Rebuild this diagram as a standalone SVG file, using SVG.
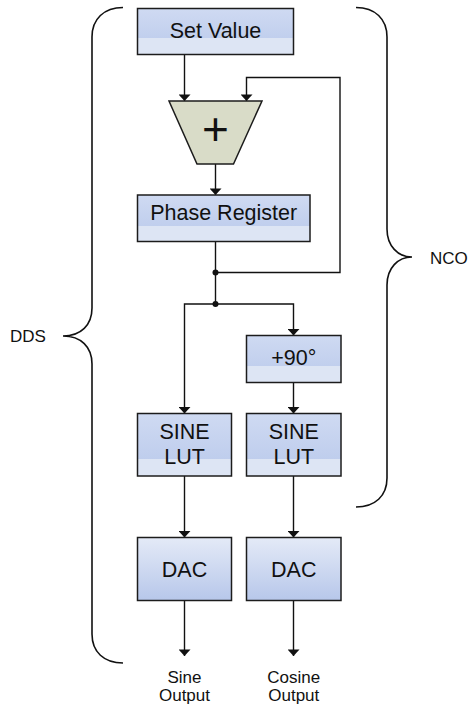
<svg xmlns="http://www.w3.org/2000/svg" width="469" height="707" viewBox="0 0 469 707">
  <style>
    .box { fill: url(#glass); }
    .band { fill: #dde5f4; }
    .edge { fill: none; stroke: #1c1c1c; stroke-width: 1.5; }
    .dac { fill: url(#dacFill); stroke: #1c1c1c; stroke-width: 1.5; }
    .lbl { font-family: "Liberation Sans", Arial, sans-serif; font-size: 21.5px; fill: #111; text-anchor: middle; }
    .small { font-family: "Liberation Sans", Arial, sans-serif; font-size: 17px; fill: #111; }
    .wire { fill: none; stroke: #111; stroke-width: 1.4; }
    .brace { fill: none; stroke: #111; stroke-width: 1.6; }
  </style>
  <defs>
    <linearGradient id="glass" x1="0" y1="0" x2="0" y2="1">
      <stop offset="0" stop-color="#cfdaf2"/>
      <stop offset="1" stop-color="#b9c9eb"/>
    </linearGradient>
    <linearGradient id="dacFill" x1="0" y1="0" x2="0" y2="1">
      <stop offset="0" stop-color="#e4eaf7"/>
      <stop offset="1" stop-color="#b7c7ea"/>
    </linearGradient>
    <marker id="arrow" markerUnits="userSpaceOnUse" markerWidth="7" markerHeight="12" viewBox="0 0 6 11" refX="6" refY="5.5" orient="auto">
      <path d="M0,0 L6,5.5 L0,11 z" fill="#111"/>
    </marker>
  </defs>

  <!-- braces -->
  <g id="dds">
    <path class="brace" d="M123,7.5 C104,7.5 92,19 92,37 L92,308 C92,325 81,336 63,336 C81,336 92,347 92,364 L92,634 C92,652 104,663 123,663"/>
    <text class="small" x="10" y="341.5">DDS</text>
  </g>
  <g id="nco">
    <path class="brace" d="M356,7.5 C375,7.5 387,19 387,37 L387,229 C387,246 398,257 412,257 C398,257 387,268 387,285 L387,478 C387,496 375,507 356,507"/>
    <text class="small" x="430" y="264">NCO</text>
  </g>

  <!-- connectors -->
  <g id="connectors">
    <path class="wire" d="M184.5,54.5 V101" marker-end="url(#arrow)"/>
    <path class="wire" d="M215.5,272.5 H340 V77.5 H246.5 V101" marker-end="url(#arrow)"/>
    <path class="wire" d="M215.5,164 V195" marker-end="url(#arrow)"/>
    <path class="wire" d="M215.5,241.5 V304"/>
    <path class="wire" d="M215.5,304 H184.5 V413.5" marker-end="url(#arrow)"/>
    <path class="wire" d="M215.5,304 H293.5 V335.5" marker-end="url(#arrow)"/>
    <path class="wire" d="M293.5,382.5 V413.5" marker-end="url(#arrow)"/>
    <path class="wire" d="M184.5,476 V537.5" marker-end="url(#arrow)"/>
    <path class="wire" d="M293.5,476 V537.5" marker-end="url(#arrow)"/>
    <path class="wire" d="M184.5,600.5 V656" marker-end="url(#arrow)"/>
    <path class="wire" d="M293.5,600.5 V656" marker-end="url(#arrow)"/>
    <circle cx="215.5" cy="272.5" r="3" fill="#111"/>
    <circle cx="215.5" cy="304" r="3" fill="#111"/>
  </g>

  <!-- nodes -->
  <g id="set-value">
    <rect class="box" x="137.5" y="8.5" width="156" height="46"/>
    <rect class="band" x="137.5" y="38" width="156" height="16.5"/>
    <rect class="edge" x="137.5" y="8.5" width="156" height="46"/>
    <text class="lbl" x="215.5" y="38.3">Set Value</text>
  </g>

  <g id="adder">
    <polygon points="169,101 262,101 233.5,164 197,164" fill="#d9dcc8" stroke="#1c1c1c" stroke-width="1.5"/>
    <text x="215.5" y="145" font-family="Liberation Sans, Arial, sans-serif" font-size="46" fill="#111" text-anchor="middle">+</text>
  </g>

  <g id="phase-register">
    <rect class="box" x="137.5" y="195" width="172.5" height="46.5"/>
    <rect class="band" x="137.5" y="226" width="172.5" height="15.5"/>
    <rect class="edge" x="137.5" y="195" width="172.5" height="46.5"/>
    <text class="lbl" x="223.7" y="219.5">Phase Register</text>
  </g>

  <g id="phase-shift">
    <rect class="box" x="246.5" y="335.5" width="94.5" height="47"/>
    <rect class="band" x="246.5" y="366" width="94.5" height="16.5"/>
    <rect class="edge" x="246.5" y="335.5" width="94.5" height="47"/>
    <text class="lbl" x="293.8" y="365">+90°</text>
  </g>

  <g id="sine-lut">
    <rect class="box" x="137.5" y="413.5" width="94" height="62.5"/>
    <rect class="band" x="137.5" y="459" width="94" height="17"/>
    <rect class="edge" x="137.5" y="413.5" width="94" height="62.5"/>
    <text class="lbl" x="184.5" y="439">SINE</text>
    <text class="lbl" x="184.5" y="464">LUT</text>
  </g>

  <g id="cosine-lut">
    <rect class="box" x="246.5" y="413.5" width="94.5" height="62.5"/>
    <rect class="band" x="246.5" y="459" width="94.5" height="17"/>
    <rect class="edge" x="246.5" y="413.5" width="94.5" height="62.5"/>
    <text class="lbl" x="293.8" y="439">SINE</text>
    <text class="lbl" x="293.8" y="464">LUT</text>
  </g>

  <g id="dac-sine">
    <rect class="dac" x="137.5" y="537.5" width="94" height="63"/>
    <text class="lbl" x="184.5" y="576.7">DAC</text>
  </g>

  <g id="dac-cosine">
    <rect class="dac" x="246.5" y="537.5" width="94.5" height="63"/>
    <text class="lbl" x="293.8" y="576.7">DAC</text>
  </g>

  <g id="sine-output">
    <text class="small" x="184.5" y="682.7" text-anchor="middle">Sine</text>
    <text class="small" x="184.5" y="701" text-anchor="middle">Output</text>
  </g>
  <g id="cosine-output">
    <text class="small" x="293.8" y="682.7" text-anchor="middle">Cosine</text>
    <text class="small" x="293.8" y="701" text-anchor="middle">Output</text>
  </g>
</svg>
